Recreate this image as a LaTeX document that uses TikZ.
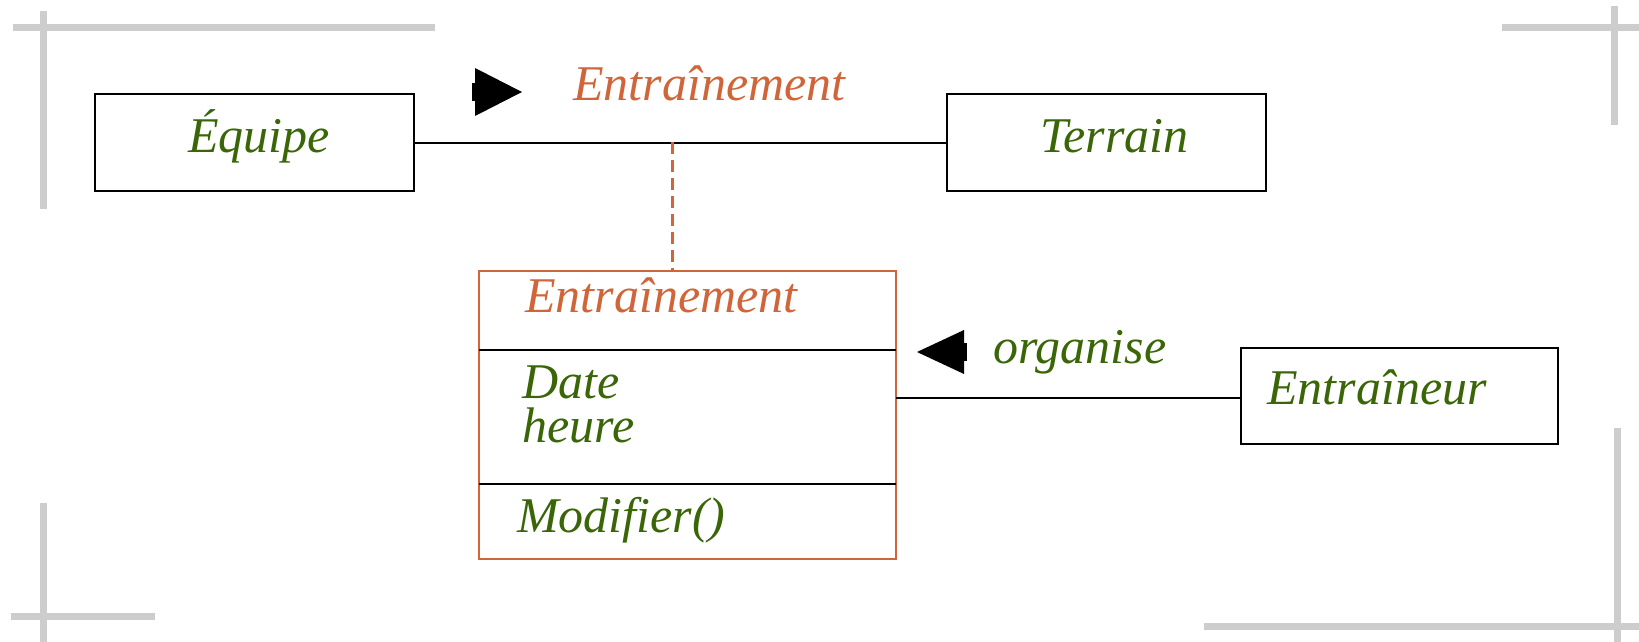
\documentclass[tikz,border=0pt]{standalone}
\usepackage{fontspec}
\setmainfont{Liberation Serif}
\definecolor{leaf}{RGB}{58,102,8}
\definecolor{rust}{RGB}{207,101,56}
\definecolor{markgray}{RGB}{205,205,205}
\begin{document}
\begin{tikzpicture}[x=1pt,y=-1pt,
  lbl/.style={anchor=base west,inner sep=0pt,font=\itshape\fontsize{50}{44}\selectfont},
  greentxt/.style={lbl,text=leaf},
  rusttxt/.style={lbl,text=rust},
  entity/.style={draw=black,line width=2pt,inner sep=0pt,minimum height=97pt},
  assoc/.style={draw=black,line width=2pt},
  cropmark/.style={draw=markgray,line width=7pt},
  dirarrow/.style={fill=black,draw=none}
]
\useasboundingbox (0,0) rectangle (1639,642);

% crop marks in the corners
\draw[cropmark] (13,28) -- (435,28);
\draw[cropmark] (43,11) -- (43,209);
\draw[cropmark] (1502,28) -- (1639,28);
\draw[cropmark] (1614,6) -- (1614,125);
\draw[cropmark] (43,503) -- (43,642);
\draw[cropmark] (11,616) -- (155,616);
\draw[cropmark] (1617,428) -- (1617,642);
\draw[cropmark] (1204,626) -- (1639,626);

% classes
\node[entity,minimum width=319pt] (equipe) at (254.5,142.5) {};
\node[entity,minimum width=319pt] (terrain) at (1106.5,142.5) {};
\node[entity,minimum width=317pt,minimum height=96pt] (entraineur) at (1399.5,396) {};
\node[draw=rust,line width=2pt,inner sep=0pt,minimum width=417pt,minimum height=288pt] (classe) at (687.5,415) {};

\node[greentxt] (tequipe) at (188,152) {Équipe};
\node[greentxt] (tterrain) at (1040,152) {Terrain};
\node[greentxt] (tentraineur) at (1267,404) {Entraîneur};

% association class compartments
\coordinate (d1w) at (479,350);
\coordinate (d1e) at (896,350);
\coordinate (d2w) at (479,484);
\coordinate (d2e) at (896,484);
\draw[black,line width=2pt] (d1w) -- (d1e);
\draw[black,line width=2pt] (d2w) -- (d2e);
\node[rusttxt] (ctitle) at (525,312) {Entraînement};
% the base anchor of a two-line node sits on its last line
\node[greentxt,align=left] (cattrs) at (522,442) {Date\\heure};
\node[greentxt] (cmodif) at (517,532) {Modifier()};

% associations
\draw[assoc] (equipe.east) -- (terrain.west);
\coordinate (link) at (672,142);
\draw[rust,line width=3pt,dash pattern=on 12pt off 6pt] (link) -- (classe.north -| link);
\coordinate (orgw) at (896,398);
\draw[assoc] (orgw) -- (entraineur.west |- orgw);

% association names and reading direction
\node[rusttxt] (aname) at (573,100) {Entraînement};
\fill[dirarrow] (475,68) -- (522,92) -- (475,116) -- cycle;
\fill[dirarrow] (472,83) rectangle (476,101);
\node[greentxt] (oname) at (993,363) {organise};
\fill[dirarrow] (964,330) -- (917,352) -- (964,374) -- cycle;
\fill[dirarrow] (963,343) rectangle (967,361);
\end{tikzpicture}
\end{document}
